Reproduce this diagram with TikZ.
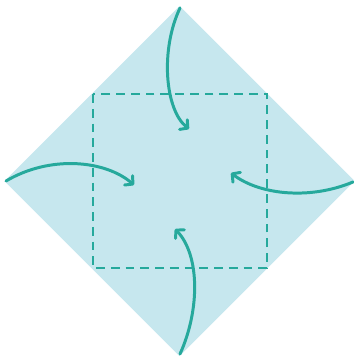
\documentclass[tikz,border=0pt]{standalone}
\usepackage{tikz}
\usetikzlibrary{arrows.meta}
\definecolor{paper}{HTML}{C6E7EE}
\definecolor{teal}{HTML}{26A99C}
\tikzset{
  sheet/.style={fill=paper, draw=none},
  foldline/.style={draw=teal, line width=1.1pt, dash pattern=on 5pt off 3.4pt},
  foldarrow/.style={draw=teal, line width=1.7pt, line cap=round, -{Straight Barb[round,length=3.2pt,width=7pt]}}
}
\begin{document}
\begin{tikzpicture}[x=0.02cm, y=-0.02cm]
\useasboundingbox (0,0) rectangle (354,358);
% diamond sheet
\coordinate (top) at (179.5,6);
\coordinate (right) at (354.5,181);
\coordinate (bottom) at (179.5,356);
\coordinate (left) at (4.5,181);
\fill[sheet] (top) -- (right) -- (bottom) -- (left) -- cycle;
% fold square
\draw[foldline] (93,94) rectangle (267,268);
% arrow ends
\coordinate (topend) at (189,129);
\coordinate (leftend) at (134,185);
\coordinate (rightend) at (231,173);
\coordinate (bottomend) at (175,229);
\draw[foldarrow] (180,8) .. controls (160,50) and (165,110) .. (topend);
\draw[foldarrow] (6,181) .. controls (50,155) and (105,160) .. (leftend);
\draw[foldarrow] (353,182) .. controls (310,200) and (260,195) .. (rightend);
\draw[foldarrow] (180,354) .. controls (200,310) and (200,255) .. (bottomend);
\end{tikzpicture}
\end{document}
